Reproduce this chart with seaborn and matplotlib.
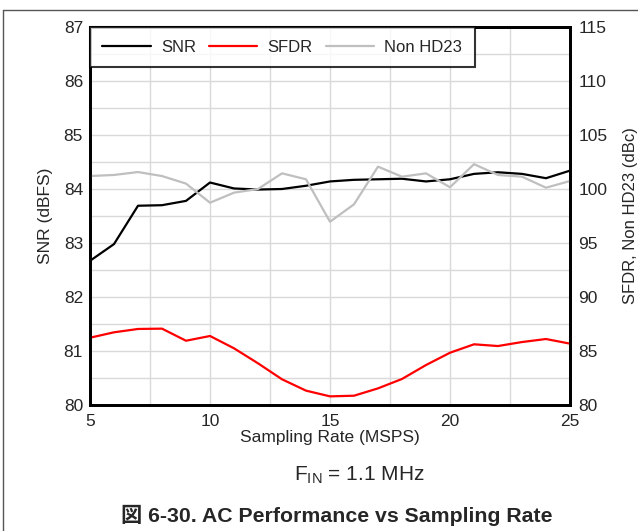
import matplotlib
matplotlib.use("Agg")
import matplotlib.pyplot as plt
import seaborn as sns
import numpy as np
import pandas as pd
from matplotlib.lines import Line2D

rate = list(range(5, 26))
snr = [82.67, 82.98, 83.69, 83.70, 83.78, 84.12, 84.01, 83.99, 84.00, 84.06, 84.14,
       84.17, 84.18, 84.19, 84.14, 84.18, 84.28, 84.31, 84.28, 84.20, 84.34]
sfdr = [86.23, 86.73, 87.04, 87.07, 85.95, 86.39, 85.25, 83.86, 82.38, 81.33, 80.80,
        80.86, 81.54, 82.41, 83.70, 84.84, 85.62, 85.46, 85.83, 86.11, 85.68]
non_hd23 = [101.2, 101.3, 101.57, 101.2, 100.5, 98.73, 99.66, 100.0, 101.45, 100.9, 96.97,
            98.58, 102.07, 101.14, 101.45, 100.16, 102.3, 101.3, 101.14, 100.12, 100.74]

df = pd.DataFrame({"rate": rate, "SNR": snr, "SFDR": sfdr, "Non HD23": non_hd23})

sns.set_style("white")
plt.rcParams['font.family'] = ['Liberation Sans', 'Noto Sans CJK JP', 'DejaVu Sans']

fig = plt.figure(figsize=(6.38, 5.31), dpi=100)
ax = fig.add_axes([90 / 638, 126 / 531, 480 / 638, 378 / 531])
ax2 = ax.twinx()

sns.lineplot(data=df, x="rate", y="SNR", ax=ax, color="black", linewidth=1.6)
sns.lineplot(data=df, x="rate", y="SFDR", ax=ax2, color="#ff0000", linewidth=1.6)
sns.lineplot(data=df, x="rate", y="Non HD23", ax=ax2, color="#bfbfbf", linewidth=1.6)

ax.set_xlim(5, 25)
ax.set_ylim(80, 87)
ax2.set_ylim(80, 115)
ax.set_xticks([5, 10, 15, 20, 25])
ax.set_xticks(np.arange(5, 25.1, 2.5), minor=True)
ax.set_yticks(np.arange(80, 87.1, 1))
ax.set_yticks(np.arange(80, 87.1, 0.5), minor=True)
ax2.set_yticks(np.arange(80, 115.1, 5))

ax.grid(which="both", color="#d9d9d9", linewidth=1)
ax.set_axisbelow(True)
ax.tick_params(axis="x", which="both", length=0, labelsize=12.5, pad=6.5)
ax.tick_params(axis="y", which="both", length=0, labelsize=12.5, pad=5)
ax2.tick_params(which="both", length=0, labelsize=12.5, pad=6)

for a in (ax, ax2):
    for s in a.spines.values():
        s.set_linewidth(2)
        s.set_color("black")

ax.set_xlabel("Sampling Rate (MSPS)", fontsize=12.5, labelpad=1)
ax.set_ylabel("SNR (dBFS)", fontsize=12.5, labelpad=8)
ax2.set_ylabel("SFDR, Non HD23 (dBc)", fontsize=12, labelpad=11)

handles = [Line2D([], [], color="black", linewidth=1.6),
           Line2D([], [], color="#ff0000", linewidth=1.6),
           Line2D([], [], color="#bfbfbf", linewidth=1.6)]
leg = ax2.legend(handles, ["SNR", "SFDR", "Non HD23"], loc="upper left", ncol=3,
                 bbox_to_anchor=(0, 1), borderaxespad=0, fontsize=12, frameon=True,
                 fancybox=False, handlelength=2.9, columnspacing=0.8, handletextpad=0.6,
                 borderpad=0.75)
leg.get_frame().set_edgecolor("black")
leg.get_frame().set_linewidth(1.5)

fig.text(359 / 638, 1 - 475 / 531, r"F$_{\mathregular{IN}}$ = 1.1 MHz", ha="center", va="center", fontsize=15)
fig.text(337 / 638, 1 - 515 / 531, "図 6-30. AC Performance vs Sampling Rate", ha="center", va="center",
         fontsize=15.3, fontweight="bold")

# outer frame
fig.add_artist(Line2D([3 / 638, 3 / 638], [0, 1 - 10 / 531], color="#555555", linewidth=1))
fig.add_artist(Line2D([3 / 638, 1], [1 - 10 / 531, 1 - 10 / 531], color="#555555", linewidth=1))

fig.savefig("out.png", dpi=100)
